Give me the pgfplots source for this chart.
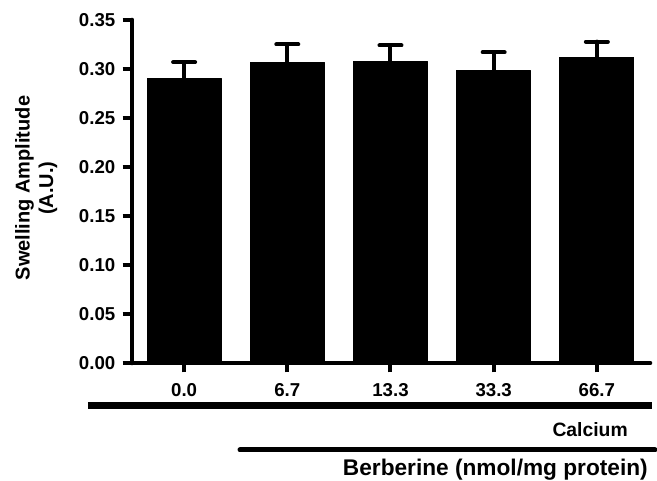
\documentclass[border=0pt]{standalone}
\usepackage{pgfplots}
\pgfplotsset{compat=1.18}
\usepackage{fontspec}
\setmainfont{Liberation Sans}
\begin{document}
\begin{tikzpicture}
\useasboundingbox (-99pt,-88.5pt) rectangle (393.75pt,272.25pt);
\begin{axis}[
  at={(0,0)}, anchor=south west,
  scale only axis, width=388.5pt, height=257.25pt,
  xmin=-0.505, xmax=4.515, ymin=0, ymax=0.35,
  axis x line=bottom, axis y line=left,
  axis line style={-, line width=3.5pt, line cap=round},
  tick align=outside, major tick length=7pt,
  tick style={line width=3pt, black},
  xtick={0,1,2,3,4},
  xticklabels={0.0,6.7,13.3,33.3,66.7},
  xticklabel style={yshift=-5pt},
  ytick={0,0.05,...,0.351},
  yticklabel style={xshift=-2pt, /pgf/number format/.cd, fixed, fixed zerofill, precision=2, assume math mode=true},
  ticklabel style={font=\bfseries\fontsize{14}{16}\selectfont},
  ylabel={Swelling Amplitude\\(A.U.)},
  ylabel style={align=center, at={(rel axis cs:-0.185,0.51)}, anchor=center, font=\bfseries\fontsize{15}{17.5}\selectfont},
  clip=false,
]
\addplot[ybar, bar width=0.717, fill=black, draw=black, line width=0.75pt, line join=round,
  error bars/.cd, y dir=plus, y explicit,
  error bar style={line width=3pt, black, line cap=round},
  error mark options={rotate=90, line width=3pt, mark size=8.25pt, black, line cap=round}]
  table[x=x, y=y, y error=e] {
x y e
0 0.290 0.017
1 0.307 0.018
2 0.308 0.016
3 0.298 0.019
4 0.312 0.016
};
\end{axis}
\draw[line width=5.25pt] (-33pt,-32.25pt) -- (390pt,-32.25pt);
\node[anchor=east, inner sep=0pt, font=\bfseries\fontsize{14.5}{16}\selectfont] at (372pt,-50.25pt) {Calcium};
\draw[line width=3.75pt, line cap=round] (81pt,-65.25pt) -- (392.25pt,-65.25pt);
\node[anchor=east, inner sep=0pt, font=\bfseries\fontsize{17}{19}\selectfont] at (387pt,-80.25pt) {Berberine (nmol/mg protein)};
\end{tikzpicture}
\end{document}
